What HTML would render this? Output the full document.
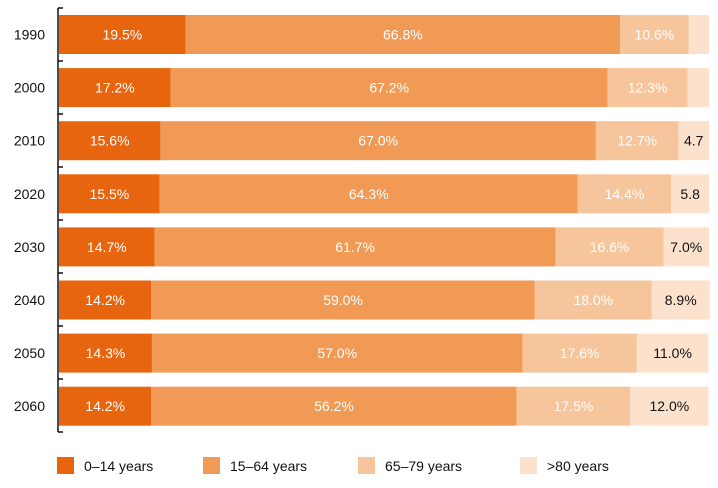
<!DOCTYPE html>
<html><head><meta charset="utf-8"><style>
body{margin:0;background:#fff;font-family:"Liberation Sans",sans-serif;}
svg text{font-family:"Liberation Sans",sans-serif;}
</style></head><body>
<svg id="chart" width="718" height="483" viewBox="0 0 718 483"></svg>
<script>
const years=["1990","2000","2010","2020","2030","2040","2050","2060"];
const s0_14=[19.5,17.2,15.6,15.5,14.7,14.2,14.3,14.2];
const s15_64=[66.8,67.2,67.0,64.3,61.7,59.0,57.0,56.2];
const s65_79=[10.6,12.3,12.7,14.4,16.6,18.0,17.6,17.5];
const s80=[3.1,3.3,4.7,5.8,7.0,8.9,11.0,12.0];
const s80Labels=["","","4.7","5.8","7.0%","8.9%","11.0%","12.0%"];
const seriesNames=["0–14 years","15–64 years","65–79 years",">80 years"];
const colors=["#e8650f","#f09a55","#f7c59c","#fce2cc"];
const NS="http://www.w3.org/2000/svg";
const svg=document.getElementById("chart");
const x0=59,xw=650,top0=15,step=53.1,bh=39;
function xs(v){return v/100*xw;}
function yRow(i){return top0+i*step;}
function mk(tag,attrs,parent){const e=document.createElementNS(NS,tag);for(const k in attrs)e.setAttribute(k,attrs[k]);(parent||svg).appendChild(e);return e;}
const series=[s0_14,s15_64,s65_79,s80];
years.forEach((yr,i)=>{
  const g=mk("g",{});
  
  
  let acc=0;
  series.forEach((arr,k)=>{
    const v=arr[i];
    const r=mk("rect",{x:x0+xs(acc),y:yRow(i),width:xs(v),height:bh,fill:colors[k]},g);
    
    
    const lbl=k<3?v.toFixed(1)+"%":s80Labels[i];
    if(lbl){
      const t=mk("text",{x:x0+xs(acc+v/2),y:yRow(i)+bh/2+5,"text-anchor":"middle","font-size":"14",fill:k<3?"#fff":"#111"},g);
      t.textContent=lbl;
      
      
    }
    acc+=v;
  });
  const yl=mk("text",{x:45,y:yRow(i)+bh/2+5,"text-anchor":"end","font-size":"14",fill:"#111"});
  yl.textContent=yr;
  
  
});
const ax=mk("line",{x1:58,y1:8,x2:58,y2:432,stroke:"#111","stroke-width":"1.5"});


for(let i=0;i<=years.length;i++){
  const y=8+i*53;
  const tk=mk("line",{x1:58,y1:y,x2:63,y2:y,stroke:"#111","stroke-width":"1.5"});
  
  
}
const lx=[57,203,358,520];
seriesNames.forEach((n,k)=>{
  const g=mk("g",{});
  
  
  mk("rect",{x:lx[k],y:457,width:17,height:17,fill:colors[k]},g);
  const t=mk("text",{x:lx[k]+27,y:471,"font-size":"14",fill:"#111"},g);
  t.textContent=n;
});
</script>
</body></html>
